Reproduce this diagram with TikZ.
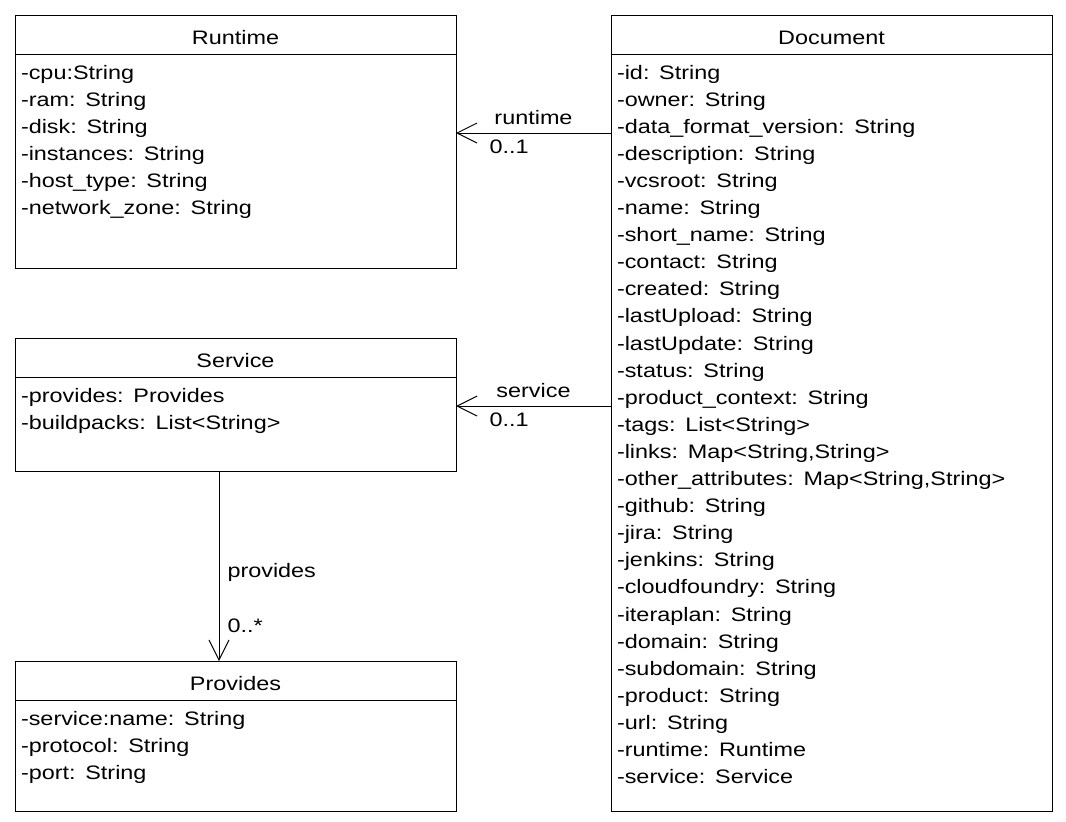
\documentclass[tikz,border=0pt]{standalone}
\usepackage{fontspec}
\setmainfont{Liberation Sans}[FakeStretch=1.2]
\usetikzlibrary{positioning, arrows.meta, calc}
\newcommand{\umlfont}{\fontsize{19.5}{27.1}\selectfont}
\tikzset{classhead/.style={
    rectangle,
    draw,
    outer sep=0pt,
    inner sep=0pt,
    minimum width=441pt,
    minimum height=39pt,
    text height=19pt,
    text depth=0pt,
    font=\umlfont
}}
\tikzset{classbody/.style={
    rectangle,
    draw,
    outer sep=0pt,
    inner xsep=6pt,
    inner ysep=0pt,
    text width=429pt,
    align=left,
    text height=25pt,
    font=\umlfont
}}
\tikzset{role/.style={
    inner sep=0pt,
    font=\umlfont
}}

\begin{document}
\begin{tikzpicture}[
    x=1pt, y=-1pt, line width=1pt,
    >={Straight Barb[length=20pt, width=20pt]},
    assoc/.style={->},
]
    \useasboundingbox (0,0) rectangle (1066,822);
    % Left column
    \node (runtime head) [classhead] at (235.5,34.5) {Runtime};
    \node (runtime body) [classbody, text depth=189pt, below=0pt of runtime head]
        {-cpu:String\\ -ram: String\\ -disk: String\\ -instances: String\\
         -host\_type: String\\ -network\_zone: String};
    \node (service head) [classhead] at (235.5,357.5) {Service};
    \node (service body) [classbody, text depth=69pt, below=0pt of service head]
        {-provides: Provides\\ -buildpacks: List<String>};
    \node (provides head) [classhead] at (235.5,680.5) {Provides};
    \node (provides body) [classbody, text depth=86pt, below=0pt of provides head]
        {-service:name: String\\ -protocol: String\\ -port: String};
    % Right column
    \node (document head) [classhead] at (831.5,34.5) {Document};
    \node (document body) [classbody, text depth=732pt, below=0pt of document head]
        {-id: String\\ -owner: String\\ -data\_format\_version: String\\
         -description: String\\ -vcsroot: String\\ -name: String\\
         -short\_name: String\\ -contact: String\\ -created: String\\
         -lastUpload: String\\ -lastUpdate: String\\ -status: String\\
         -product\_context: String\\ -tags: List<String>\\
         -links: Map<String,String>\\ -other\_attributes: Map<String,String>\\
         -github: String\\ -jira: String\\ -jenkins: String\\
         -cloudfoundry: String\\ -iteraplan: String\\ -domain: String\\
         -subdomain: String\\ -product: String\\ -url: String\\
         -runtime: Runtime\\ -service: Service};
    % Associations
    \coordinate (runtime link) at ($(runtime body.north east)+(0,79)$);
    \coordinate (service link) at ($(service body.north east)+(0,29)$);
    \coordinate (provides link) at ($(service body.south west)+(204,0)$);
    \draw [assoc] (runtime link -| document body.west) -- (runtime link)
        node [role, pos=0.5, anchor=south, yshift=8pt] {runtime}
        node [role, pos=0.786, anchor=north west, yshift=-6pt] {0..1};
    \draw [assoc] (service link -| document body.west) -- (service link)
        node [role, pos=0.5, anchor=south, yshift=8pt] {service}
        node [role, pos=0.786, anchor=north west, yshift=-6pt] {0..1};
    \draw [assoc] (provides link) -- (provides link |- provides head.north)
        node [role, pos=0.534, anchor=west, xshift=8pt] {provides}
        node [role, pos=0.815, anchor=west, xshift=8pt] {0..*};
\end{tikzpicture}
\end{document}
